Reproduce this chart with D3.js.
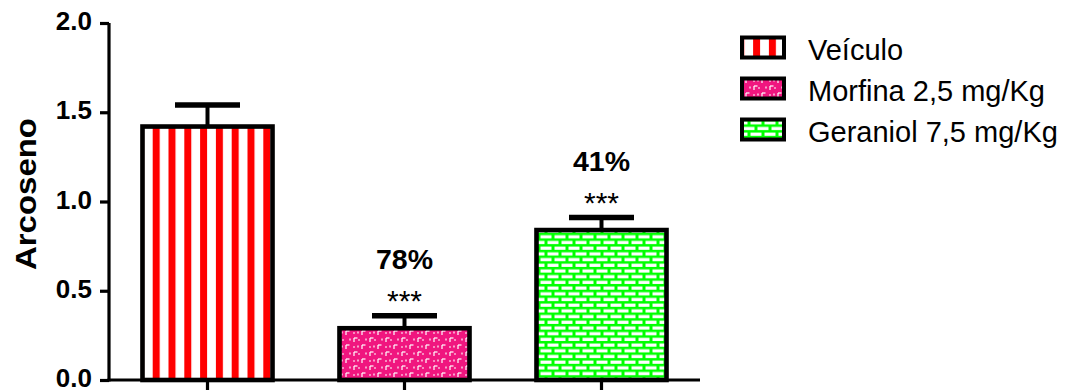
<!DOCTYPE html>
<html>
<head>
<meta charset="utf-8">
<script src="https://cdn.jsdelivr.net/npm/d3@7"></script>
<style>
html,body{margin:0;padding:0;background:#fff;}
svg{display:block;font-family:"Liberation Sans",Arial,sans-serif;}
</style>
</head>
<body>
<svg id="chart" width="1078" height="392"></svg>
<script>
const categories = ["Veículo", "Morfina 2,5 mg/Kg", "Geraniol 7,5 mg/Kg"];
const means = [1.42, 0.29, 0.84];
const sems = [0.12, 0.07, 0.07];
const stars = ["", "***", "***"];
const percents = ["", "78%", "41%"];
const yTicks = [0.0, 0.5, 1.0, 1.5, 2.0];
const yLabel = "Arcoseno";

const svg = d3.select("#chart");
const defs = svg.append("defs");

// Patterns
const pStripe = defs.append("pattern").attr("id","pStripe").attr("patternUnits","userSpaceOnUse")
  .attr("width",15.8).attr("height",10).attr("x",152.7);
pStripe.append("rect").attr("width",15.8).attr("height",10).attr("fill","#fff");
pStripe.append("rect").attr("width",7).attr("height",10).attr("fill","#ff0000");

const pPink = defs.append("pattern").attr("id","pPink").attr("patternUnits","userSpaceOnUse")
  .attr("width",16).attr("height",14);
pPink.append("rect").attr("width",16).attr("height",14).attr("fill","#f0167f");
[[2,2,2,6],[2,2,5.5,2],[10,9,10,13],[10,9,13.5,9],[6,9.5,6,11.5],[14,2.5,14,4.5],[6,4,8,4],[1,11,3,11]].forEach(d=>{
  pPink.append("line").attr("x1",d[0]).attr("y1",d[1]).attr("x2",d[2]).attr("y2",d[3])
    .attr("stroke","#fff").attr("stroke-width",1.2);
});

const pBrick = defs.append("pattern").attr("id","pBrick").attr("patternUnits","userSpaceOnUse")
  .attr("width",14).attr("height",11.4);
pBrick.append("rect").attr("width",14).attr("height",11.4).attr("fill","#00ff00");
pBrick.append("rect").attr("x",1.5).attr("y",1.5).attr("width",11).attr("height",3.2).attr("fill","#fff");
pBrick.append("rect").attr("x",-5.5).attr("y",7.2).attr("width",11).attr("height",3.2).attr("fill","#fff");
pBrick.append("rect").attr("x",8.5).attr("y",7.2).attr("width",11).attr("height",3.2).attr("fill","#fff");

const fills = ["url(#pStripe)","url(#pPink)","url(#pBrick)"];

// Scales
const y = d3.scaleLinear().domain([0,2]).range([380,23]);
const x = d3.scaleBand().domain(categories).range([109,700]).paddingInner(0.34).paddingOuter(0.17);

// Bars
const g = svg.append("g");
g.selectAll("rect.bar").data(categories).join("rect")
  .attr("class","bar")
  .attr("x",d=>x(d)).attr("width",x.bandwidth())
  .attr("y",(d,i)=>y(means[i])).attr("height",(d,i)=>y(0)-y(means[i]))
  .attr("fill",(d,i)=>fills[i]).attr("stroke","#000").attr("stroke-width",4.6);

// Error bars
categories.forEach((c,i)=>{
  const cx = x(c)+x.bandwidth()/2;
  const top = y(means[i]+sems[i]);
  g.append("line").attr("x1",cx).attr("x2",cx).attr("y1",y(means[i])).attr("y2",top)
    .attr("stroke","#000").attr("stroke-width",4);
  g.append("line").attr("x1",cx-32.5).attr("x2",cx+32.5).attr("y1",top).attr("y2",top)
    .attr("stroke","#000").attr("stroke-width",5.5);
  if (stars[i]) {
    g.append("text").attr("x",cx).attr("y",top-5).attr("text-anchor","middle")
      .attr("font-size",30).attr("font-weight","normal").text(stars[i]);
  }
  if (percents[i]) {
    g.append("text").attr("x",cx).attr("y",top-47).attr("text-anchor","middle")
      .attr("font-size",28.5).attr("font-weight","bold").text(percents[i]);
  }
});

// Y axis
const yAxis = svg.append("g").attr("transform","translate(109,0)")
  .call(d3.axisLeft(y).tickValues(yTicks).tickFormat(d3.format(".1f")).tickSize(9).tickPadding(8));
yAxis.select(".domain").attr("stroke","#000").attr("stroke-width",3.2).attr("d","M0,23V381.5");
yAxis.selectAll(".tick line").attr("stroke","#000").attr("stroke-width",3.2);
yAxis.selectAll(".tick text").attr("font-size",26).attr("font-weight","bold").attr("fill","#000")
  .attr("font-family","'Liberation Sans',Arial,sans-serif").attr("dy","0.25em");

// X axis
const xAxis = svg.append("g").attr("transform","translate(0,380)")
  .call(d3.axisBottom(x).tickSize(10).tickFormat(""));
xAxis.select(".domain").attr("stroke","#000").attr("stroke-width",3.2).attr("d","M107.5,0H700");
xAxis.selectAll(".tick line").attr("stroke","#000").attr("stroke-width",3.2);

// Y label
svg.append("text").attr("transform","translate(36,194) rotate(-90)").attr("text-anchor","middle")
  .attr("font-size",30).attr("font-weight","bold").attr("textLength",152).attr("lengthAdjust","spacingAndGlyphs")
  .text(yLabel);

// Legend
const leg = svg.append("g");
categories.forEach((c,i)=>{
  const by = 60 + i*41;
  leg.append("rect").attr("x",742).attr("y",by-22.5).attr("width",42).attr("height",20)
    .attr("fill",fills[i]).attr("stroke","#000").attr("stroke-width",4);
  leg.append("text").attr("x",808).attr("y",by).attr("font-size",29).text(c);
});
</script>
</body>
</html>
